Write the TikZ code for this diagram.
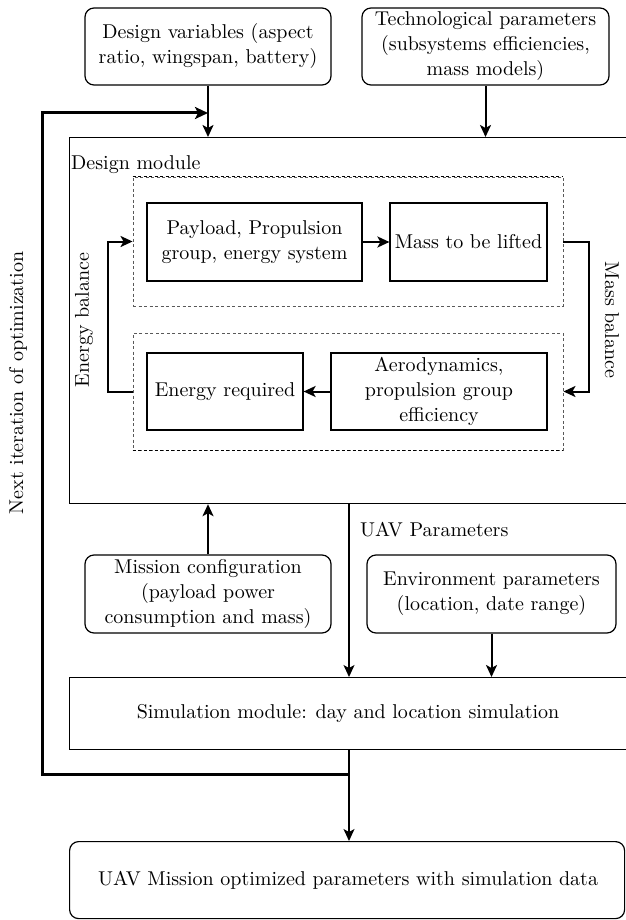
\documentclass[tikz,border=0pt]{standalone}
\usepackage{fontspec}
\setmainfont{lmroman10-regular.otf}
\usetikzlibrary{arrows.meta}
\begin{document}
\begin{tikzpicture}[x=1pt,y=-1pt,
  font=\fontsize{20}{25}\selectfont,
  box/.style={draw=black,line width=1.2pt,align=center,inner sep=2pt},
  rbox/.style={box,rounded corners=9pt},
  dbox/.style={draw=black!65,dashed,dash pattern=on 3pt off 2.5pt,line width=0.9pt},
  dedge/.style={draw=black,dash pattern=on 3pt off 2.5pt,line width=1.3pt},
  arr/.style={line width=2pt,-{Stealth[length=12pt,width=11pt,inset=3pt]}},
  tarr/.style={line width=1.3pt,-{Stealth[length=12pt,width=11pt,inset=3pt]}},
  fb/.style={line width=3pt,-{Stealth[length=13pt,width=12pt,inset=3pt]}},
  lbl/.style={inner sep=0pt}]
\useasboundingbox[fill=white] (0,0) rectangle (625,920);
% top inputs
\node[rbox,minimum width=246pt,minimum height=77pt] (dv) at (208,46.5)
  {Design variables (aspect\\ratio, wingspan, battery)};
\node[rbox,minimum width=247pt,minimum height=77pt] (tp) at (485.5,46.5)
  {Technological parameters\\(subsystems efficiencies,\\mass models)};
% design module
\node[box,anchor=north west,minimum width=557pt,minimum height=366pt] (dm) at (69,137) {};
\node[lbl,anchor=west] (dml) at (71,165) {Design module};
% dashed groups
\node[dbox,minimum width=430pt,minimum height=129pt] (ud) at (348,241.5) {};
\node[dbox,minimum width=430pt,minimum height=117pt] (ld) at (348,391.5) {};
\draw[dedge] (ud.north west) -- (ud.north east);
\draw[dedge] (ld.south west) -- (ld.south east);
% inner boxes
\node[box,minimum width=215pt,minimum height=78pt] (pl) at (254.5,242)
  {Payload, Propulsion\\group, energy system};
\node[box,minimum width=157pt,minimum height=78pt] (ml) at (468.5,242)
  {Mass to be lifted};
\node[box,minimum width=156pt,minimum height=77pt] (er) at (225,391.5)
  {Energy required};
\node[box,minimum width=216pt,minimum height=77pt] (ae) at (439,391.5)
  {Aerodynamics,\\propulsion group\\efficiency};
\draw[arr] (pl.east) -- (ml.west);
\draw[arr] (ae.west) -- (er.east);
\draw[arr] (ud.east) -- ++(26,0) |- (ld.east);
\draw[arr] (ld.west) -- ++(-25,0) |- (ud.west);
\node[lbl,rotate=90] (eb) at (84,320) {Energy balance};
\node[lbl,rotate=-90] (mb) at (612,320) {Mass balance};
% inputs to design module
\draw[arr] (dv.south) -- (dv.south |- dm.north);
\draw[arr] (tp.south) -- (tp.south |- dm.north);
% lower part
\node[rbox,minimum width=246pt,minimum height=78pt] (mc) at (208,594)
  {Mission configuration\\(payload power\\consumption and mass)};
\node[rbox,minimum width=249pt,minimum height=78pt] (en) at (491.5,594)
  {Environment parameters\\(location, date range)};
\node[box,anchor=north west,minimum width=557pt,minimum height=72pt] (sim) at (69,677) {};
\node[lbl] (simt) at (348,713) {Simulation module: day and location simulation};
\node[rbox,anchor=north west,minimum width=555pt,minimum height=77pt] (out) at (69,841) {};
\node[lbl] (outt) at (348,880) {UAV Mission optimized parameters with simulation data};
\coordinate (ux) at (349,0);
\coordinate (fbY) at (0,113);
\coordinate (fbB) at (349,774);
\draw[arr] (mc.north) -- (mc.north |- dm.south);
\draw[tarr] (dm.south -| ux) -- (sim.north -| ux);
\node[lbl,anchor=west] (uav) at (360,530) {UAV Parameters};
\draw[arr] (en.south) -- (en.south |- sim.north);
\draw[tarr] (sim.south -| ux) -- (out.north -| ux);
% feedback loop
\draw[fb] (fbB) -- (42,774) -- (42,113) -- (dv.south |- fbY);
\node[lbl,rotate=90] (nio) at (18,383) {Next iteration of optimization};
\end{tikzpicture}
\end{document}
